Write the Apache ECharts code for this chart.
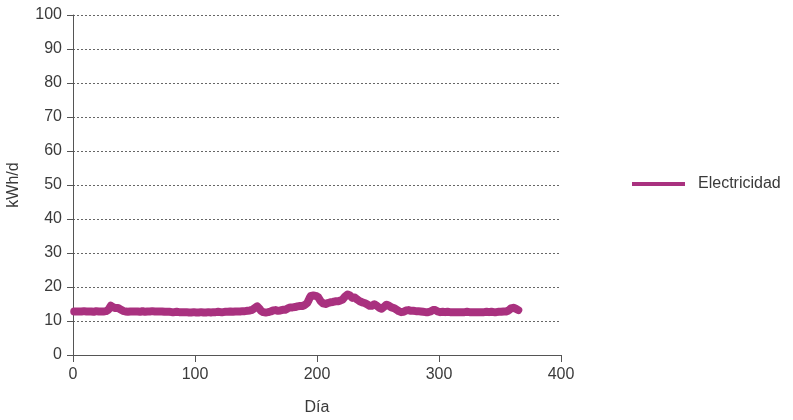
<!DOCTYPE html>
<html><head><meta charset="utf-8">
<script src="https://cdn.jsdelivr.net/npm/echarts@6/dist/echarts.min.js"></script>
<style>html,body{margin:0;padding:0;background:#fff}#c{width:793px;height:420px}</style>
</head><body><div id="c"></div>
<script>
const seriesName = "Electricidad";
const xTicks = [0, 100, 200, 300, 400];
const yTicks = [0, 10, 20, 30, 40, 50, 60, 70, 80, 90, 100];
const electricidad = [
12.8,12.7,12.8,12.9,12.8,12.7,12.8,12.8,12.9,12.8,
12.8,12.7,12.8,12.9,12.8,12.8,12.7,12.8,12.9,12.8,
12.8,12.9,12.8,12.7,12.8,12.9,12.9,13.0,13.3,13.9,
14.5,14.4,14.0,13.7,13.8,13.9,13.8,13.6,13.4,13.2,
13.0,12.9,12.8,12.8,12.7,12.8,12.8,12.7,12.8,12.8,
12.8,12.7,12.8,12.8,12.7,12.8,12.9,12.8,12.7,12.8,
12.8,12.7,12.8,12.8,12.9,12.8,12.8,12.7,12.8,12.8,
12.8,12.9,12.8,12.8,12.7,12.8,12.7,12.6,12.7,12.7,
12.6,12.7,12.6,12.6,12.7,12.6,12.6,12.5,12.6,12.6,
12.6,12.5,12.6,12.6,12.5,12.6,12.5,12.5,12.6,12.5,
12.5,12.6,12.5,12.5,12.6,12.5,12.5,12.6,12.5,12.5,
12.6,12.5,12.5,12.6,12.6,12.5,12.6,12.6,12.7,12.6,
12.6,12.7,12.6,12.7,12.7,12.6,12.7,12.7,12.8,12.7,
12.7,12.8,12.8,12.7,12.8,12.9,12.8,12.9,12.9,13.0,
12.9,13.0,13.0,12.9,13.1,13.2,13.3,13.5,13.8,14.1,
14.3,14.1,13.6,13.0,12.7,12.6,12.6,12.5,12.6,12.6,
12.7,12.8,12.9,13.1,13.2,13.2,13.1,13.0,13.0,13.1,
13.2,13.3,13.2,13.3,13.5,13.7,13.9,14.0,14.1,14.0,
14.0,14.1,14.2,14.3,14.3,14.4,14.3,14.4,14.5,14.7,
14.9,15.3,16.0,16.8,17.4,17.6,17.5,17.3,17.4,17.2,
17.0,16.4,15.8,15.4,15.2,15.1,15.0,15.2,15.3,15.4,
15.5,15.6,15.6,15.7,15.8,15.9,15.8,15.9,16.0,16.1,
16.3,16.7,17.2,17.6,17.8,17.7,17.5,17.1,16.8,16.7,
16.9,16.7,16.3,16.0,15.8,15.6,15.5,15.4,15.3,15.1,
14.9,14.7,14.5,14.4,14.5,14.7,14.9,14.8,14.5,14.2,
13.9,13.7,13.6,13.8,14.2,14.6,14.8,14.7,14.5,14.2,
14.0,13.9,13.8,13.6,13.4,13.1,12.9,12.7,12.6,12.6,
12.7,12.9,13.1,13.2,13.2,13.1,13.0,13.1,13.0,12.9,
12.9,13.0,12.9,12.9,12.8,12.8,12.7,12.7,12.6,12.6,
12.6,12.7,12.8,13.0,13.2,13.3,13.2,13.0,12.8,12.7,
12.6,12.6,12.7,12.6,12.6,12.6,12.7,12.6,12.6,12.6,
12.6,12.7,12.6,12.6,12.6,12.7,12.6,12.6,12.6,12.7,
12.6,12.6,12.7,12.6,12.6,12.6,12.6,12.7,12.6,12.6,
12.6,12.7,12.6,12.6,12.6,12.7,12.6,12.6,12.7,12.6,
12.6,12.6,12.7,12.6,12.6,12.7,12.6,12.6,12.7,12.7,
12.7,12.7,12.8,12.7,12.8,12.9,13.1,13.4,13.7,13.9,
13.9,13.8,13.6,13.4,13.2
];
const points = electricidad.map((v, i) => [i + 1, v]);

const FONT = "'Liberation Sans', Arial, sans-serif";
const TEXT = '#3a3a3a';
const chart = echarts.init(document.getElementById('c'), null, {renderer: 'canvas'});
chart.setOption({
  animation: false,
  textStyle: {fontFamily: FONT},
  grid: {left: 73, right: 232, top: 15, bottom: 65, containLabel: false, outerBoundsMode: 'none'},
  legend: {
    orient: 'vertical', left: 627, top: 171,
    itemWidth: 53, itemHeight: 16,
    data: [{name: seriesName, icon: 'path://M0,0 L53,0 L53,4 L0,4 Z'}],
    textStyle: {color: TEXT, fontSize: 16, fontFamily: FONT, padding: [0, 0, 0, 8]}
  },
  xAxis: {
    type: 'value', min: xTicks[0], max: xTicks[xTicks.length - 1], interval: 100,
    name: 'Día', nameLocation: 'middle', nameGap: 45,
    nameTextStyle: {color: TEXT, fontSize: 16, fontFamily: FONT},
    axisLine: {show: true, lineStyle: {color: '#555', width: 1}},
    axisTick: {show: true, inside: false, length: 7, lineStyle: {color: '#555'}},
    axisLabel: {color: TEXT, fontSize: 16, margin: 12, fontFamily: FONT},
    splitLine: {show: false}
  },
  yAxis: {
    type: 'value', min: yTicks[0], max: yTicks[yTicks.length - 1], interval: 10,
    name: 'kWh/d', nameLocation: 'middle', nameGap: 51, nameRotate: 90,
    nameTextStyle: {color: TEXT, fontSize: 16, fontFamily: FONT},
    axisLine: {show: true, lineStyle: {color: '#555', width: 1}},
    axisTick: {show: true, inside: false, length: 6, lineStyle: {color: '#555'}},
    axisLabel: {color: TEXT, fontSize: 16, margin: 11, fontFamily: FONT},
    splitLine: {show: true, lineStyle: {color: '#666', width: 1, type: [2, 2]}}
  },
  series: [{
    name: seriesName, type: 'line', data: points,
    showSymbol: false, symbol: 'none', smooth: false,
    itemStyle: {color: '#a9317f'},
    lineStyle: {color: '#a9317f', width: 8, cap: 'round', join: 'round'}
  }]
});
</script></body></html>
